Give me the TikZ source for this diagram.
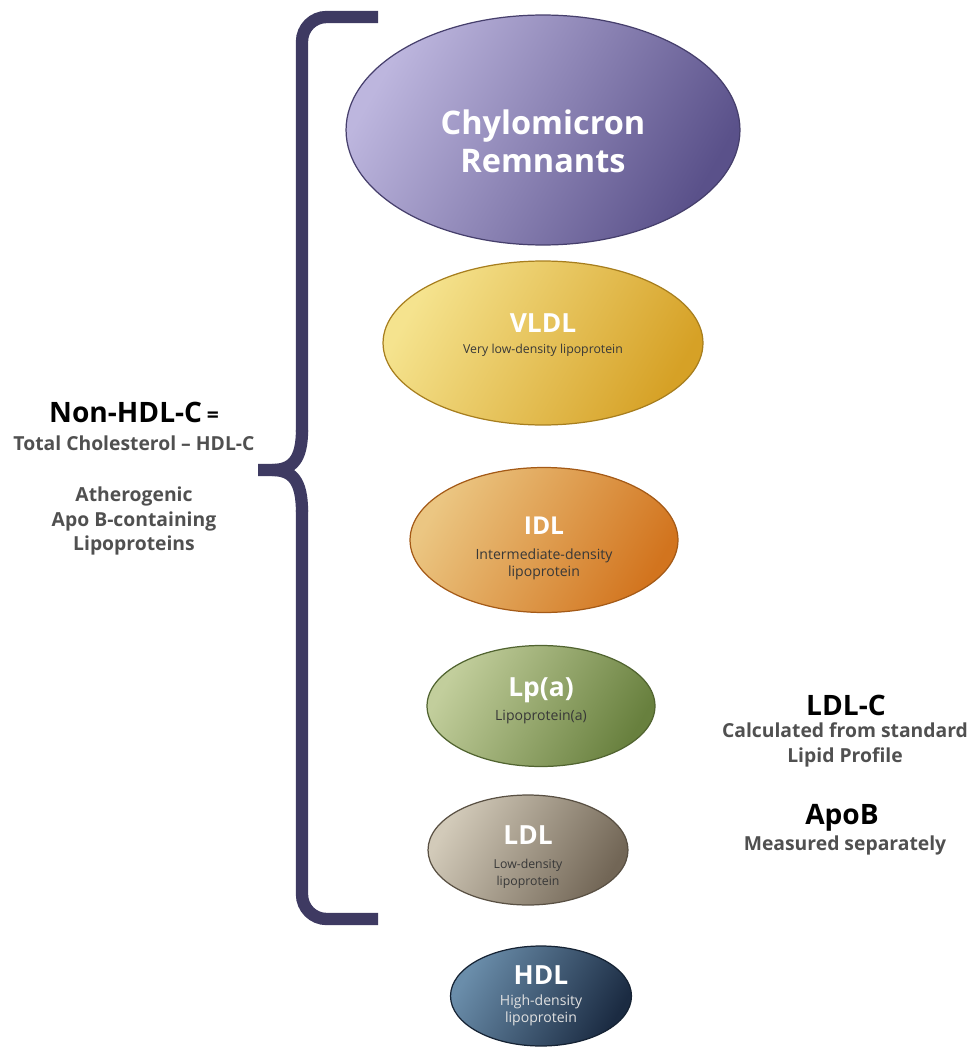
\documentclass[tikz,border=0pt]{standalone}
\usepackage{fontspec}
\setmainfont{Open Sans}
\usetikzlibrary{shapes.geometric}

\definecolor{bracecol}{HTML}{3E3A62}
\definecolor{labelgray}{HTML}{505050}
\definecolor{chyloA}{HTML}{BDB6DE}
\definecolor{chyloB}{HTML}{5A518A}
\definecolor{vldlA}{HTML}{F5E38E}
\definecolor{vldlB}{HTML}{D6A126}
\definecolor{idlA}{HTML}{EBC682}
\definecolor{idlB}{HTML}{D2741E}
\definecolor{lpaA}{HTML}{C2CE9C}
\definecolor{lpaB}{HTML}{68803E}
\definecolor{ldlA}{HTML}{D2CAB9}
\definecolor{ldlB}{HTML}{726656}
\definecolor{hdlA}{HTML}{6A8DAA}
\definecolor{hdlB}{HTML}{1B2B42}

\tikzset{
  lipo/.style 2 args={ellipse, inner sep=0pt, line width=0.7pt,
    top color=#1, bottom color=#2, shading angle=60, draw=#2!78!black},
  lipotitle/.style={text=white, font=\bfseries\fontsize{#1}{#1}\selectfont},
  lipotitle/.default=15,
  lipodesc/.style={align=center, text=black!78, font=\fontsize{#1}{9.6}\selectfont},
  lipodesc/.default=8,
  sidetext/.style={align=center, text=labelgray, font=\bfseries\fontsize{11}{14}\selectfont},
  bigtext/.style={text=black, font=\bfseries\fontsize{16}{19}\selectfont},
}

\begin{document}
\begin{tikzpicture}[x=0.02cm, y=-0.02cm]
  \useasboundingbox (0,0) rectangle (971,1051);

  % Lipoproteins
  \node[lipo={chyloA}{chyloB}, minimum width=7.88cm, minimum height=4.6cm] (chylo) at (543,130) {};
  \node[lipotitle, align=center, font=\bfseries\fontsize{18.5}{21.6}\selectfont] (chylotxt) at (543,141)
    {Chylomicron\\Remnants};

  \node[lipo={vldlA}{vldlB}, minimum width=6.4cm, minimum height=3.28cm] (vldl) at (543,343) {};
  \node[lipotitle] (vldltxt) at (543,323) {VLDL};
  \node[lipodesc=7] (vldldesc) at (543,350) {Very low-density lipoprotein};

  \node[lipo={idlA}{idlB}, minimum width=5.36cm, minimum height=2.9cm] (idl) at (544,540) {};
  \node[lipotitle=14] (idltxt) at (544,526) {IDL};
  \node[lipodesc] (idldesc) at (544,564) {Intermediate-density\\lipoprotein};

  \node[lipo={lpaA}{lpaB}, minimum width=4.56cm, minimum height=2.42cm] (lpa) at (541,706) {};
  \node[lipotitle] (lpatxt) at (541,690) {Lp(a)};
  \node[lipodesc] (lpadesc) at (541,717) {Lipoprotein(a)};

  \node[lipo={ldlA}{ldlB}, minimum width=4.0cm, minimum height=2.2cm] (ldl) at (528,850) {};
  \node[lipotitle] (ldltxt) at (528,835) {LDL};
  \node[lipodesc=7] (ldldesc) at (528,874) {Low-density\\lipoprotein};

  \node[lipo={hdlA}{hdlB}, minimum width=3.62cm, minimum height=2.0cm] (hdl) at (541,996) {};
  \node[lipotitle] (hdltxt) at (541,975) {HDL};
  \node[lipodesc, text=white!88!black] (hdldesc) at (541,1010) {High-density\\lipoprotein};

  % Brace
  \draw[bracecol, line width=7pt, rounded corners=14pt]
    (378,17) -- (302,17) -- (302,432);
  \draw[bracecol, line width=7pt, line join=round]
    (302,430) .. controls (302,460) and (292,470) .. (272,470) -- (258,470);
  \draw[bracecol, line width=7pt]
    (272,470) .. controls (292,470) and (302,480) .. (302,512);
  \draw[bracecol, line width=7pt, rounded corners=14pt]
    (302,510) -- (302,919) -- (378,919);

  % Left labels
  \node[bigtext] (nonhdl) at (134,412)
    {Non-HDL-C\,{\fontsize{12}{14}\selectfont =}};
  \node[sidetext] (totalc) at (134,443) {Total Cholesterol – HDL-C};
  \node[sidetext] (athero) at (134,521) {Atherogenic\\Apo B-containing\\Lipoproteins};

  % Right labels
  \node[bigtext] (ldlc) at (846,705) {LDL-C};
  \node[sidetext] (calc) at (845,745) {Calculated from standard\\Lipid Profile};
  \node[bigtext] (apob) at (842,818) {ApoB};
  \node[sidetext] (meas) at (845,845) {Measured separately};
\end{tikzpicture}
\end{document}
